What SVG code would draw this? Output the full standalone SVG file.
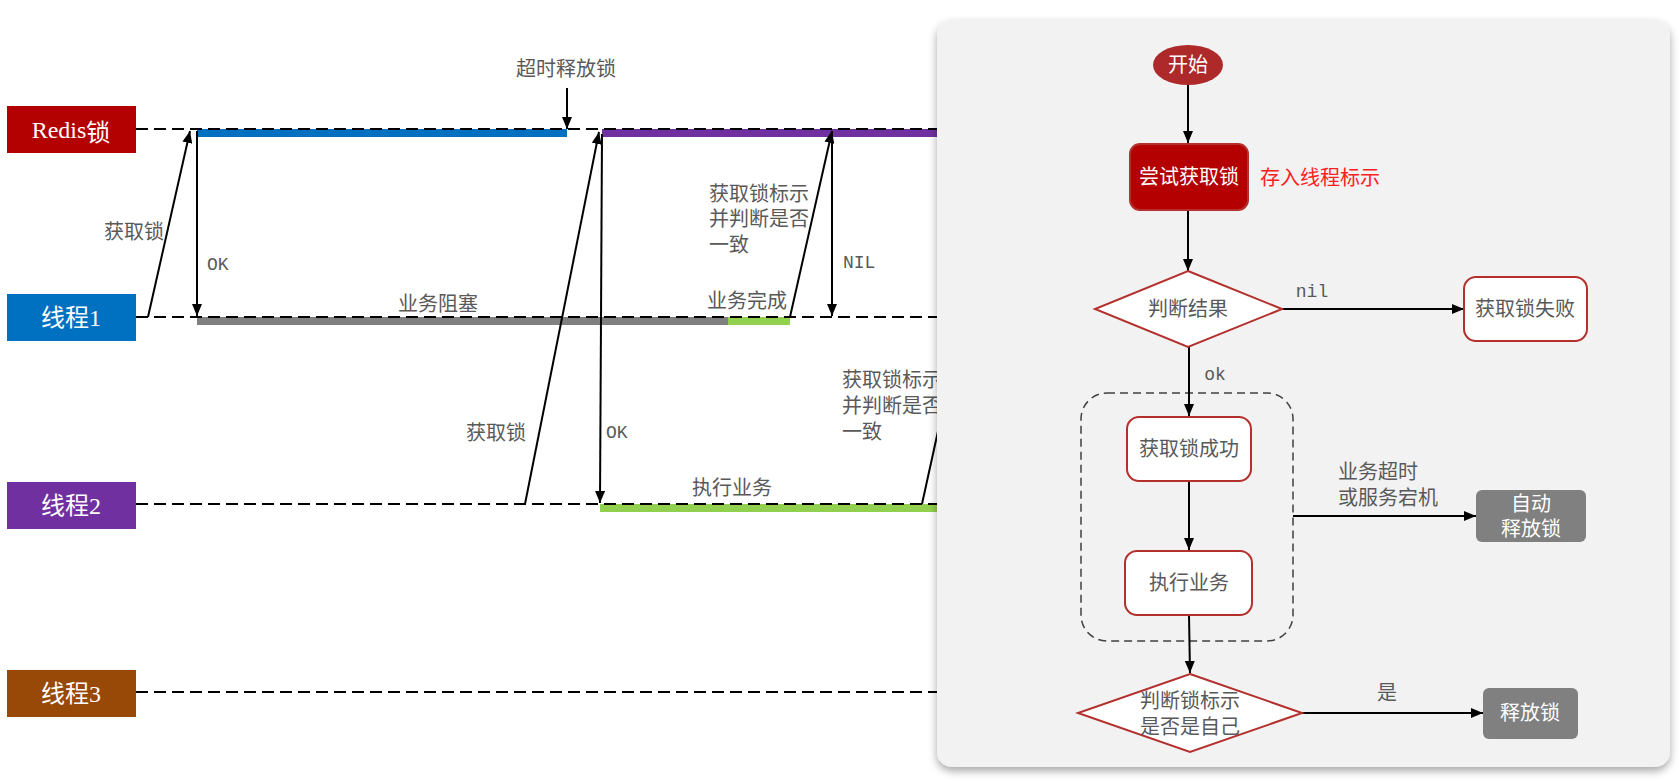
<svg xmlns="http://www.w3.org/2000/svg" width="1679" height="781" viewBox="0 0 1679 781">
<style>
.t{font-family:"Liberation Serif","Noto Sans CJK SC",serif;font-size:20px;fill:#595959;dominant-baseline:central}
.m{font-family:"Liberation Mono","Noto Sans CJK SC",monospace;font-size:18px;fill:#595959;dominant-baseline:central}
.w{fill:#ffffff}
.c{text-anchor:middle}
.lbl{font-family:"Liberation Serif","Noto Sans CJK SC",serif;font-size:24px;fill:#ffffff;dominant-baseline:central;text-anchor:middle}
.life{stroke:#000;stroke-width:2;stroke-dasharray:12 6;fill:none}
.ar{stroke:#000;stroke-width:2;fill:none}
.node{fill:#fff;stroke:#B3302C;stroke-width:2}
.gray{fill:#808080}
</style>
<defs>
<marker id="ah" markerUnits="userSpaceOnUse" markerWidth="12" markerHeight="10" refX="12" refY="5" orient="auto">
<path d="M0,0 L12,5 L0,10 z" fill="#000"/>
</marker>
<filter id="sh" x="-5%" y="-5%" width="110%" height="110%">
<feDropShadow dx="0" dy="4" stdDeviation="4" flood-color="#000" flood-opacity="0.35"/>
</filter>
</defs>

<g id="lifelines">
<line class="life" x1="136" y1="129" x2="937" y2="129"/>
<line class="life" x1="136" y1="317" x2="937" y2="317"/>
<line class="life" x1="136" y1="504" x2="937" y2="504"/>
<line class="life" x1="136" y1="692" x2="937" y2="692"/>
</g>

<g id="bars">
<rect x="197" y="129" width="370" height="8" fill="#0070C0"/>
<rect x="602" y="129" width="335" height="8" fill="#7030A0"/>
<rect x="197" y="317" width="531" height="8" fill="#808080"/>
<rect x="728" y="317" width="62" height="8" fill="#92D050"/>
<rect x="600" y="504" width="337" height="8" fill="#92D050"/>
<line class="life" x1="136" y1="129" x2="937" y2="129"/>
<line class="life" x1="136" y1="317" x2="937" y2="317"/>
<line class="life" x1="136" y1="504" x2="937" y2="504"/>
</g>

<g id="redis"><rect x="7" y="106" width="129" height="47" fill="#B30000"/><text class="lbl" x="71" y="130">Redis<tspan font-family="Noto Sans CJK SC">锁</tspan></text></g>
<g id="thread1"><rect x="7" y="294" width="129" height="47" fill="#0070C0"/><text class="lbl" x="71" y="318">线程1</text></g>
<g id="thread2"><rect x="7" y="482" width="129" height="47" fill="#7030A0"/><text class="lbl" x="71" y="506">线程2</text></g>
<g id="thread3"><rect x="7" y="670" width="129" height="47" fill="#984807"/><text class="lbl" x="71" y="694">线程3</text></g>

<g id="connectors-left">
<line class="ar" x1="148" y1="317" x2="190" y2="131" marker-end="url(#ah)"/>
<line class="ar" x1="197" y1="131" x2="197" y2="316" marker-end="url(#ah)"/>
<line class="ar" x1="567" y1="88" x2="567" y2="129" marker-end="url(#ah)"/>
<line class="ar" x1="525" y1="504" x2="599" y2="132" marker-end="url(#ah)"/>
<line class="ar" x1="602" y1="134" x2="600" y2="503" marker-end="url(#ah)"/>
<line class="ar" x1="790" y1="317" x2="832" y2="131" marker-end="url(#ah)"/>
<line class="ar" x1="832" y1="131" x2="832" y2="316" marker-end="url(#ah)"/>
<line class="ar" x1="922" y1="504" x2="1004" y2="131"/>
</g>

<g id="labels-left">
<text class="t c" x="566" y="69">超时释放锁</text>
<text class="t c" x="134" y="232">获取锁</text>
<text class="m" x="207" y="265">OK</text>
<text class="t c" x="438" y="304">业务阻塞</text>
<text class="t" x="709" y="194">获取锁标示</text>
<text class="t" x="709" y="219">并判断是否</text>
<text class="t" x="709" y="245">一致</text>
<text class="t c" x="747" y="301">业务完成</text>
<text class="m" x="843" y="263">NIL</text>
<text class="t c" x="496" y="433">获取锁</text>
<text class="m" x="606" y="433">OK</text>
<text class="t c" x="732" y="488">执行业务</text>
<text class="t" x="842" y="380">获取锁标示</text>
<text class="t" x="842" y="406">并判断是否</text>
<text class="t" x="842" y="432">一致</text>
</g>

<g id="panel"><rect x="937" y="20" width="733" height="747" rx="15" fill="#F2F2F2" filter="url(#sh)"/></g>

<g id="container"><rect x="1081" y="393" width="212" height="248" rx="26" fill="none" stroke="#404040" stroke-width="1.5" stroke-dasharray="8 5"/></g>

<g id="connectors-flow">
<line class="ar" x1="1188" y1="85" x2="1188" y2="143" marker-end="url(#ah)"/>
<line class="ar" x1="1188" y1="210" x2="1188" y2="271" marker-end="url(#ah)"/>
<line class="ar" x1="1282" y1="309" x2="1464" y2="309" marker-end="url(#ah)"/>
<line class="ar" x1="1189" y1="347" x2="1189" y2="416" marker-end="url(#ah)"/>
<line class="ar" x1="1189" y1="481" x2="1189" y2="550" marker-end="url(#ah)"/>
<line class="ar" x1="1189" y1="615" x2="1190" y2="673" marker-end="url(#ah)"/>
<line class="ar" x1="1293" y1="516" x2="1476" y2="516" marker-end="url(#ah)"/>
<line class="ar" x1="1302" y1="713" x2="1483" y2="713" marker-end="url(#ah)"/>
</g>

<g id="start"><ellipse cx="1188" cy="65" rx="35" ry="20" fill="#AE2A2A"/><text class="t c w" x="1188" y="65">开始</text></g>
<g id="try"><rect x="1130" y="144" width="118" height="66" rx="10" fill="#B40000" stroke="#B3302C" stroke-width="2"/><text class="t c w" x="1189" y="177">尝试获取锁</text></g>
<g id="note"><text class="t" x="1260" y="178" style="fill:#FF2020">存入线程标示</text></g>
<g id="judge1"><polygon class="node" points="1188,271 1282,309 1188,347 1095,309"/><text class="t c" x="1188" y="309">判断结果</text></g>
<g id="fail"><rect class="node" x="1464" y="277" width="123" height="64" rx="12"/><text class="t c" x="1525" y="309">获取锁失败</text></g>
<g id="success"><rect class="node" x="1127" y="417" width="124" height="64" rx="12"/><text class="t c" x="1189" y="449">获取锁成功</text></g>
<g id="exec"><rect class="node" x="1125" y="551" width="127" height="64" rx="12"/><text class="t c" x="1189" y="583">执行业务</text></g>
<g id="auto"><rect class="gray" x="1476" y="490" width="110" height="52" rx="6"/><text class="t c w" x="1531" y="504">自动</text><text class="t c w" x="1531" y="529">释放锁</text></g>
<g id="judge2"><polygon class="node" points="1190,674 1302,713 1190,752 1078,713"/><text class="t c" x="1190" y="701">判断锁标示</text><text class="t c" x="1190" y="727">是否是自己</text></g>
<g id="release"><rect class="gray" x="1483" y="688" width="95" height="51" rx="6"/><text class="t c w" x="1530" y="713">释放锁</text></g>

<g id="labels-flow">
<text class="m c" x="1312" y="292">nil</text>
<text class="m c" x="1215" y="375">ok</text>
<text class="t" x="1338" y="472">业务超时</text>
<text class="t" x="1338" y="498">或服务宕机</text>
<text class="t c" x="1387" y="693">是</text>
</g>
</svg>
